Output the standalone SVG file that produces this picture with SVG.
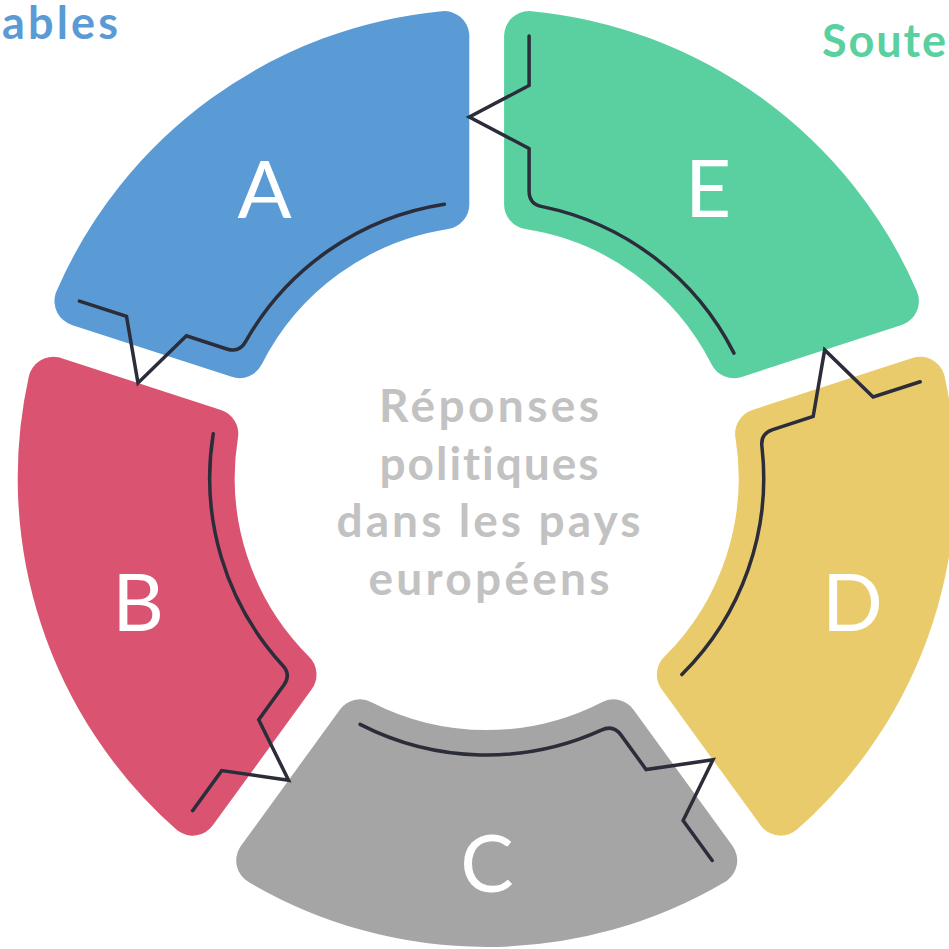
<svg xmlns="http://www.w3.org/2000/svg" width="949" height="949" viewBox="0 0 949 949">
<defs>
<style>
text{font-variant-ligatures:none;font-feature-settings:"liga" 0}
.seg{stroke-width:50;stroke-linejoin:round}
.lt{font-family:Lato,"Noto Sans","DejaVu Sans",sans-serif;font-size:80px;fill:#ffffff;text-anchor:middle}
.ctr{font-family:Lato,"Noto Sans","DejaVu Sans",sans-serif;font-size:46px;font-weight:700;fill:#c2c2c2;text-anchor:middle}
.lab{font-family:Lato,"Noto Sans","DejaVu Sans",sans-serif;font-size:45px;font-weight:700}
.ln{fill:none;stroke:#2b2d3a;stroke-width:3.5;stroke-linecap:round;stroke-linejoin:miter}
</style>
<path id="core" d="M 42.4,-441.97 A 444 444 0 0 1 407.23,-176.9 L 247.25,-124.89 A 277 277 0 0 0 42.4,-273.74 Z"/>
<path id="zig" d="M 42.4,-442 V -392.5 L -17.4,-361 L 42.4,-329.5 V -287 Q 42.4,-273.7 55.5,-271.4 A 277 277 0 0 1 247.25,-124.89"/>
</defs>
<rect width="949" height="949" fill="#ffffff"/>
<text class="lab" x="2" y="39" textLength="116" fill="#5b9bd5">ables</text>
<text class="lab" x="822" y="57" textLength="124" fill="#5ad0a0">Soute</text>
<g id="node-A">
<use href="#core" class="seg" fill="#5b9bd5" stroke="#5b9bd5" transform="translate(486.7 478) rotate(288)"/>
<text class="lt" x="264.5" y="218">A</text>
</g>
<g id="node-B">
<use href="#core" class="seg" fill="#da5472" stroke="#da5472" transform="translate(486.7 478) rotate(216)"/>
<text class="lt" x="138" y="631">B</text>
</g>
<g id="node-C">
<use href="#core" class="seg" fill="#a5a5a5" stroke="#a5a5a5" transform="translate(486.7 478) rotate(144)"/>
<text class="lt" x="487" y="892">C</text>
</g>
<g id="node-D">
<use href="#core" class="seg" fill="#e9cb6b" stroke="#e9cb6b" transform="translate(486.7 478) rotate(72)"/>
<text class="lt" x="852.5" y="631">D</text>
</g>
<g id="node-E">
<use href="#core" class="seg" fill="#5ad0a0" stroke="#5ad0a0" transform="translate(486.7 478)"/>
<text class="lt" x="708" y="217">E</text>
</g>
<g id="connectors">
<use href="#zig" class="ln" transform="translate(486.7 478)"/>
<use href="#zig" class="ln" transform="translate(486.7 478) rotate(72)"/>
<use href="#zig" class="ln" transform="translate(486.7 478) rotate(144)"/>
<use href="#zig" class="ln" transform="translate(486.7 478) rotate(216)"/>
<use href="#zig" class="ln" transform="translate(486.7 478) rotate(288)"/>
</g>
<g id="center">
<text class="ctr" x="489" y="422" textLength="220">Réponses</text>
<text class="ctr" x="489" y="479.5" textLength="219">politiques</text>
<text class="ctr" x="488.5" y="537" textLength="304">dans les pays</text>
<text class="ctr" x="489" y="594.5" textLength="241">européens</text>
</g>
</svg>
